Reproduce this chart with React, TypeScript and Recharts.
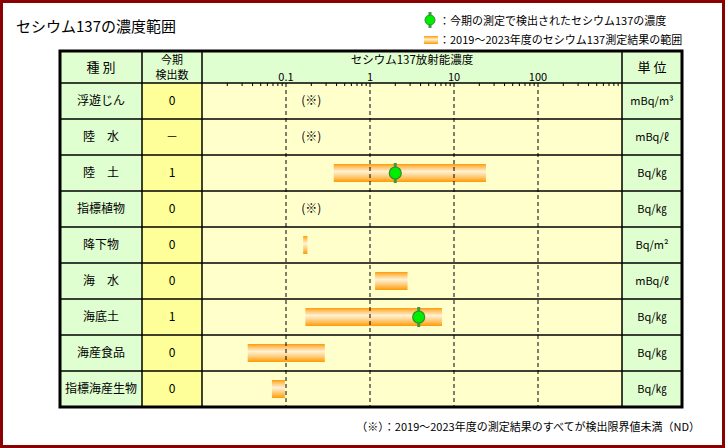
import { Bar, ComposedChart, ReferenceLine, Scatter, XAxis, YAxis } from "recharts";

// rows of the table
const categories = ["浮遊じん", "陸　水", "陸　土", "指標植物", "降下物", "海　水", "海底土", "海産食品", "指標海産生物"];
const detectedCounts = ["0", "－", "1", "0", "0", "0", "1", "0", "0"];
const units = ["mBq/m³", "mBq/ℓ", "Bq/㎏", "Bq/㎏", "Bq/m²", "mBq/ℓ", "Bq/㎏", "Bq/㎏", "Bq/㎏"];

// 2019-2023 range (low / high) and this period's detected value
const rangeLow = [null, null, 0.37, null, 0.16, 1.15, 0.17, 0.035, 0.068];
const rangeHigh = [null, null, 24, null, 0.18, 2.8, 7.2, 0.29, 0.097];
const detectedValues = [null, null, 2.0, null, null, null, 3.8, null, null];
// where the "(※)" note is written for rows that were all ND
const ndNotePositions = [0.2, 0.2, null, 0.2, null, null, null, null, null];

// axis
const axisDomain = [0.01, 1000];
const decadeLabels = [0.1, 1, 10, 100];
const minorDecades = [0.01, 0.1, 1, 10, 100];
const minorSteps = [2, 3, 4, 5, 6, 7, 8, 9];

const tickValues = [
  ...decadeLabels,
  ...minorDecades.flatMap((d) => minorSteps.map((m) => Number((d * m).toPrecision(2)))),
];

const chartData = categories.map((name, i) => ({
  name,
  range: rangeLow[i] != null && rangeHigh[i] != null ? [rangeLow[i], rangeHigh[i]] : null,
  detected: detectedValues[i],
  nd: ndNotePositions[i],
}));

const FONT = '"Noto Sans CJK JP", "Noto Sans", sans-serif';
const GREEN = "#E0FFD0";
const YELLOW = "#FFFF99";
const PLOT_BG = "#FFFFCC";

// table layout
const T_LEFT = 60;
const C1 = 142;
const C2 = 202;
const C3 = 622;
const T_RIGHT = 682;
const T_TOP = 51;
const H_BOTTOM = 83;
const T_BOTTOM = 407;
const ROW_H = (T_BOTTOM - H_BOTTOM) / categories.length;

const AxisTick = (props: any) => {
  const { x, y, payload } = props;
  const major = decadeLabels.includes(payload.value);
  return (
    <g>
      {!major && <line x1={x} x2={x} y1={y} y2={y + 3} stroke="#000" strokeWidth={1} />}
      {major && (
        <text x={x} y={y - 2} textAnchor="middle" fontSize={11} fontFamily={FONT} fill="#000">
          {String(payload.value)}
        </text>
      )}
    </g>
  );
};

const RowTick = (props: any) => {
  const { y, payload } = props;
  const i = categories.indexOf(payload.value);
  return (
    <g fontFamily={FONT} fill="#000">
      <text x={(T_LEFT + C1) / 2} y={y} dy="0.36em" textAnchor="middle" fontSize={12}>
        {categories[i]}
      </text>
      <text x={(C1 + C2) / 2} y={y} dy="0.36em" textAnchor="middle" fontSize={12}>
        {detectedCounts[i]}
      </text>
      <text x={(C3 + T_RIGHT) / 2} y={y} dy="0.36em" textAnchor="middle" fontSize={11}>
        {units[i]}
      </text>
    </g>
  );
};

const RangeBar = (props: any) => {
  const { x, y, width, height, payload } = props;
  if (!payload || payload.range == null || !Number.isFinite(x) || !Number.isFinite(width)) return null;
  return <rect x={x} y={y} width={Math.max(width, 2)} height={height} fill="url(#rangeGrad)" />;
};

const DetectedMark = (props: any) => {
  const { cx, cy, payload } = props;
  if (!payload || payload.detected == null || !Number.isFinite(cx)) return null;
  return (
    <g>
      <line x1={cx} x2={cx} y1={cy - 10} y2={cy + 10} stroke="#3C9A3C" strokeWidth={3} />
      <circle cx={cx} cy={cy} r={6} fill="#00EE00" stroke="#2F8F2F" strokeWidth={1.2} />
    </g>
  );
};

const NdNote = (props: any) => {
  const { cx, cy, payload } = props;
  if (!payload || payload.nd == null || !Number.isFinite(cx)) return null;
  return (
    <text x={cx} y={cy} dy="0.36em" textAnchor="middle" fontSize={12} fontFamily={FONT} fill="#000">
      (※)
    </text>
  );
};

const App = () => {
  const rowLines = categories.slice(1).map((_, i) => H_BOTTOM + ROW_H * (i + 1));
  return (
    <div
      style={{
        position: "absolute",
        left: 0,
        top: 0,
        width: 725,
        height: 448,
        background: "#fff",
        fontFamily: FONT,
      }}
    >
      {/* cell backgrounds */}
      <div style={{ position: "absolute", left: T_LEFT, top: T_TOP, width: T_RIGHT - T_LEFT, height: H_BOTTOM - T_TOP, background: GREEN }} />
      <div style={{ position: "absolute", left: T_LEFT, top: H_BOTTOM, width: C1 - T_LEFT, height: T_BOTTOM - H_BOTTOM, background: GREEN }} />
      <div style={{ position: "absolute", left: C1, top: H_BOTTOM, width: C2 - C1, height: T_BOTTOM - H_BOTTOM, background: YELLOW }} />
      <div style={{ position: "absolute", left: C2, top: H_BOTTOM, width: C3 - C2, height: T_BOTTOM - H_BOTTOM, background: PLOT_BG }} />
      <div style={{ position: "absolute", left: C3, top: H_BOTTOM, width: T_RIGHT - C3, height: T_BOTTOM - H_BOTTOM, background: GREEN }} />

      <div style={{ position: "absolute", left: 0, top: 0 }}>
        <ComposedChart
          width={725}
          height={448}
          data={chartData}
          layout="vertical"
          margin={{ top: T_TOP, right: 725 - C3, bottom: 448 - T_BOTTOM, left: T_LEFT }}
        >
          <defs>
            <linearGradient id="rangeGrad" x1="0" y1="0" x2="0" y2="1">
              <stop offset="0%" stopColor="#FF9A00" />
              <stop offset="12%" stopColor="#FFB950" />
              <stop offset="42%" stopColor="#FFF2D4" />
              <stop offset="75%" stopColor="#FFC468" />
              <stop offset="100%" stopColor="#FF9A00" />
            </linearGradient>
          </defs>
          <XAxis
            type="number"
            scale="log"
            domain={axisDomain}
            allowDataOverflow
            orientation="top"
            height={H_BOTTOM - T_TOP}
            ticks={tickValues}
            interval={0}
            tick={<AxisTick />}
            tickSize={0}
            tickMargin={0}
            axisLine={false}
            tickLine={false}
          />
          <YAxis
            type="category"
            dataKey="name"
            width={C2 - T_LEFT}
            tick={<RowTick />}
            axisLine={false}
            tickLine={false}
            interval={0}
          />
          {decadeLabels.map((v) => (
            <ReferenceLine key={v} x={v} stroke="#000" strokeDasharray="4 3" />
          ))}
          <Bar dataKey="range" barSize={18} shape={<RangeBar />} isAnimationActive={false} />
          <Scatter dataKey="detected" shape={<DetectedMark />} isAnimationActive={false} />
          <Scatter dataKey="nd" shape={<NdNote />} isAnimationActive={false} />
        </ComposedChart>
      </div>

      {/* table lines, headings, legend, note */}
      <svg width={725} height={448} style={{ position: "absolute", left: 0, top: 0, pointerEvents: "none" }}>
        <defs>
          <linearGradient id="legendGrad" x1="0" y1="0" x2="0" y2="1">
            <stop offset="0%" stopColor="#FF9A00" />
            <stop offset="42%" stopColor="#FFF2D4" />
            <stop offset="100%" stopColor="#FF9A00" />
          </linearGradient>
        </defs>
        <text x={16} y={32} fontSize={15} fontFamily={FONT} fill="#000">
          セシウム137の濃度範囲
        </text>

        <line x1={430} x2={430} y1={12} y2={28} stroke="#3C9A3C" strokeWidth={3} />
        <circle cx={430} cy={20} r={5} fill="#00EE00" stroke="#2F8F2F" strokeWidth={1} />
        <text x={439} y={25} fontSize={11} fontFamily={FONT} fill="#000">
          ：今期の測定で検出されたセシウム137の濃度
        </text>
        <rect x={424} y={36} width={14} height={8} fill="url(#legendGrad)" />
        <text x={439} y={44} fontSize={11} fontFamily={FONT} fill="#000">
          ：2019～2023年度のセシウム137測定結果の範囲
        </text>

        {rowLines.map((y) => (
          <line key={y} x1={T_LEFT} x2={T_RIGHT} y1={y} y2={y} stroke="#000" strokeWidth={1.5} />
        ))}
        <line x1={T_LEFT} x2={T_RIGHT} y1={H_BOTTOM} y2={H_BOTTOM} stroke="#000" strokeWidth={1.5} />
        {[C1, C2, C3].map((x) => (
          <line key={x} x1={x} x2={x} y1={T_TOP} y2={T_BOTTOM} stroke="#000" strokeWidth={1.5} />
        ))}
        <rect x={T_LEFT} y={T_TOP} width={T_RIGHT - T_LEFT} height={T_BOTTOM - T_TOP} fill="none" stroke="#000" strokeWidth={3} />

        <g fontFamily={FONT} fill="#000" textAnchor="middle">
          <text x={(T_LEFT + C1) / 2} y={72} fontSize={13}>種 別</text>
          <text x={(C1 + C2) / 2} y={64} fontSize={11}>今期</text>
          <text x={(C1 + C2) / 2} y={79} fontSize={11}>検出数</text>
          <text x={(C2 + C3) / 2} y={64} fontSize={11.5}>セシウム137放射能濃度</text>
          <text x={(C3 + T_RIGHT) / 2} y={72} fontSize={13}>単 位</text>
        </g>

        <text x={700} y={431} fontSize={11} fontFamily={FONT} fill="#000" textAnchor="end">
          （※）：2019～2023年度の測定結果のすべてが検出限界値未満（ND）
        </text>
      </svg>

      <div
        style={{
          position: "absolute",
          inset: 0,
          border: "3px solid #8B0000",
          boxSizing: "border-box",
          pointerEvents: "none",
        }}
      />
    </div>
  );
};

export default App;
